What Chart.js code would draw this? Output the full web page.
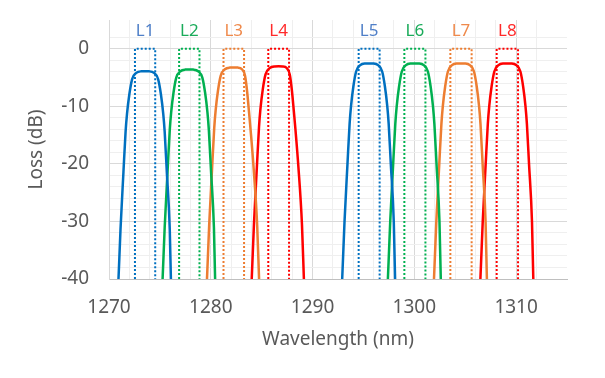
<!DOCTYPE html>
<html>
<head>
<meta charset="utf-8">
<script src="https://cdn.jsdelivr.net/npm/chart.js@4/dist/chart.umd.min.js"></script>
<style>
html,body{margin:0;padding:0;background:#fff;}
#wrap{width:605px;height:378px;}
</style>
</head>
<body>
<div id="wrap"><canvas id="c" width="605" height="378"></canvas></div>
<script>
// ---- data ----
const channelNames = ['L1','L2','L3','L4','L5','L6','L7','L8'];

const l1Wave = [1270.70,1270.90,1271.13,1271.42,1271.63,1271.77,1272.00,1272.27,1272.68,1273.15,1273.55,1273.95,1274.42,1274.83,1275.10,1275.33,1275.47,1275.68,1275.97,1276.10,1276.25];
const l1Loss = [-47.9,-41.4,-31.4,-21.4,-14.4,-11.3,-7.9,-5.3,-4.2,-3.92,-3.9,-3.92,-4.2,-5.3,-7.9,-11.3,-14.4,-21.4,-31.4,-41.4,-47.9];
const l2Wave = [1275.04,1275.24,1275.47,1275.76,1275.97,1276.11,1276.34,1276.61,1277.02,1277.49,1277.89,1278.29,1278.76,1279.17,1279.44,1279.67,1279.81,1280.02,1280.31,1280.44,1280.59];
const l2Loss = [-47.6,-41.1,-31.1,-21.1,-14.1,-11.0,-7.6,-5.0,-3.9,-3.62,-3.6,-3.62,-3.9,-5.0,-7.6,-11.0,-14.1,-21.1,-31.1,-41.1,-47.6];
const l3Wave = [1279.41,1279.61,1279.84,1280.13,1280.34,1280.48,1280.71,1280.98,1281.39,1281.86,1282.26,1282.66,1283.06,1283.36,1283.56,1283.76,1283.92,1284.21,1284.56,1284.76,1284.91];
const l3Loss = [-47.25,-40.75,-30.75,-20.75,-13.75,-10.65,-7.25,-4.65,-3.55,-3.27,-3.25,-3.27,-3.55,-4.65,-7.25,-11.05,-14.25,-20.75,-30.75,-40.75,-47.25];
const l4Wave = [1283.81,1284.01,1284.24,1284.53,1284.74,1284.88,1285.11,1285.38,1285.79,1286.26,1286.66,1287.06,1287.46,1287.76,1287.96,1288.16,1288.32,1288.61,1288.96,1289.16,1289.31];
const l4Loss = [-47.05,-40.55,-30.55,-20.55,-13.55,-10.45,-7.05,-4.45,-3.35,-3.07,-3.05,-3.07,-3.35,-4.45,-7.05,-10.85,-14.05,-20.55,-30.55,-40.55,-47.05];
const l5Wave = [1292.71,1292.91,1293.14,1293.43,1293.64,1293.78,1294.01,1294.28,1294.69,1295.16,1295.56,1295.96,1296.43,1296.84,1297.11,1297.34,1297.48,1297.69,1297.98,1298.11,1298.26];
const l5Loss = [-46.55,-40.05,-30.05,-20.05,-13.05,-9.95,-6.55,-3.95,-2.85,-2.57,-2.55,-2.57,-2.85,-3.95,-6.55,-9.95,-13.05,-20.05,-30.05,-40.05,-46.55];
const l6Wave = [1297.20,1297.40,1297.63,1297.92,1298.13,1298.27,1298.50,1298.77,1299.18,1299.65,1300.05,1300.45,1300.92,1301.33,1301.60,1301.83,1301.97,1302.18,1302.47,1302.60,1302.75];
const l6Loss = [-46.55,-40.05,-30.05,-20.05,-13.05,-9.95,-6.55,-3.95,-2.85,-2.57,-2.55,-2.57,-2.85,-3.95,-6.55,-9.95,-13.05,-20.05,-30.05,-40.05,-46.55];
const l7Wave = [1301.73,1301.93,1302.16,1302.45,1302.66,1302.80,1303.03,1303.30,1303.71,1304.18,1304.58,1304.98,1305.45,1305.86,1306.13,1306.36,1306.50,1306.71,1307.00,1307.13,1307.28];
const l7Loss = [-46.55,-40.05,-30.05,-20.05,-13.05,-9.95,-6.55,-3.95,-2.85,-2.57,-2.55,-2.57,-2.85,-3.95,-6.55,-9.95,-13.05,-20.05,-30.05,-40.05,-46.55];
const l8Wave = [1306.29,1306.49,1306.72,1307.01,1307.22,1307.36,1307.59,1307.86,1308.27,1308.74,1309.14,1309.54,1310.01,1310.42,1310.69,1310.92,1311.06,1311.27,1311.56,1311.69,1311.84];
const l8Loss = [-46.55,-40.05,-30.05,-20.05,-13.05,-9.95,-6.55,-3.95,-2.85,-2.57,-2.55,-2.57,-2.85,-3.95,-6.55,-9.95,-13.05,-20.05,-30.05,-40.05,-46.55];

// passband edges (nm) for each channel
const bandLow  = [1272.55,1276.89,1281.25,1285.65,1294.53,1299.02,1303.54,1308.09];
const bandHigh = [1274.54,1278.89,1283.27,1287.69,1296.59,1301.09,1305.63,1310.19];
const bandTop = 0;        // dB
const bandBottom = -40;   // dB
const labelLevel = 3.1;   // dB, where channel names sit

const xTickLabels = [1270,1280,1290,1300,1310];
const yTickLabels = [0,-10,-20,-30,-40];

// ---- styles ----
const colors = ['#0070c0','#00b050','#ed7d31','#ff0000','#0070c0','#00b050','#ed7d31','#ff0000'];
const labelColors = ['#4f7fc8','#1aab5a','#ef8a4c','#ff2a2a','#4f7fc8','#1aab5a','#ef8a4c','#ff2a2a'];
const waves = [l1Wave,l2Wave,l3Wave,l4Wave,l5Wave,l6Wave,l7Wave,l8Wave];
const losses = [l1Loss,l2Loss,l3Loss,l4Loss,l5Loss,l6Loss,l7Loss,l8Loss];

const datasets = [];
channelNames.forEach((n,i)=>{
  datasets.push({
    label: n,
    data: waves[i].map((w,k)=>({x:w,y:losses[i][k]})),
    showLine: true,
    borderColor: colors[i],
    borderWidth: 2.5,
    pointRadius: 0,
    cubicInterpolationMode: 'monotone',
    fill: false
  });
});
channelNames.forEach((n,i)=>{
  datasets.push({
    label: n + ' band',
    data: [{x:bandLow[i],y:bandBottom},{x:bandLow[i],y:bandTop},{x:bandHigh[i],y:bandTop},{x:bandHigh[i],y:bandBottom}],
    showLine: true,
    borderColor: colors[i],
    borderWidth: 2,
    borderDash: [2,2],
    pointRadius: 0,
    tension: 0,
    fill: false
  });
});

const FONT = "'Noto Sans', sans-serif";

const labelPlugin = {
  id: 'chanLabels',
  afterDatasetsDraw(chart){
    const {ctx, scales:{x,y}} = chart;
    ctx.save();
    ctx.font = "17px " + FONT;
    ctx.textAlign = 'center';
    ctx.textBaseline = 'middle';
    channelNames.forEach((n,i)=>{
      const cx = x.getPixelForValue((bandLow[i]+bandHigh[i])/2);
      const cy = y.getPixelForValue(labelLevel);
      ctx.fillStyle = labelColors[i];
      ctx.fillText(n, cx, cy);
    });
    ctx.restore();
  }
};

new Chart(document.getElementById('c'), {
  type: 'scatter',
  data: { datasets },
  options: {
    responsive: false,
    animation: false,
    layout: { padding: { top: 20, right: 38, left: 0, bottom: 0 } },
    plugins: { legend: { display: false }, tooltip: { enabled: false } },
    scales: {
      x: {
        type: 'linear',
        min: 1270, max: 1315,
        afterFit: s => { s.height = 99; s.paddingLeft = 0; s.paddingRight = 0; },
        ticks: {
          stepSize: 2,
          autoSkip: false,
          maxRotation: 0,
          padding: 17,
          color: '#595959',
          font: { family: FONT, size: 19 },
          callback: v => xTickLabels.includes(v) ? String(v) : ''
        },
        grid: {
          drawTicks: false,
          color: c => (c.tick && c.tick.value === 1315) ? 'rgba(0,0,0,0)' : (c.tick && c.tick.value % 10 === 0 ? '#d9d9d9' : '#efefef'),
          lineWidth: 1
        },
        border: { color: '#bfbfbf', width: 1 },
        title: {
          display: true,
          text: 'Wavelength (nm)',
          color: '#595959',
          font: { family: FONT, size: 19 },
          padding: { top: 0, bottom: 27 }
        }
      },
      y: {
        type: 'linear',
        min: -40, max: 5,
        afterFit: s => { s.width = 109; s.paddingTop = 0; s.paddingBottom = 0; },
        ticks: {
          stepSize: 2,
          autoSkip: false,
          padding: 20,
          color: '#595959',
          font: { family: FONT, size: 19 },
          callback: v => yTickLabels.includes(v) ? String(v) : ''
        },
        grid: {
          drawTicks: false,
          color: c => (c.tick && c.tick.value === 5) ? 'rgba(0,0,0,0)' : (c.tick && c.tick.value % 10 === 0 ? '#d9d9d9' : '#efefef'),
          lineWidth: 1
        },
        border: { color: '#d9d9d9', width: 1 },
        title: {
          display: true,
          text: 'Loss (dB)',
          color: '#595959',
          font: { family: FONT, size: 19 },
          padding: { top: 25, bottom: 0 }
        }
      }
    }
  },
  plugins: [labelPlugin]
});
</script>
</body>
</html>
